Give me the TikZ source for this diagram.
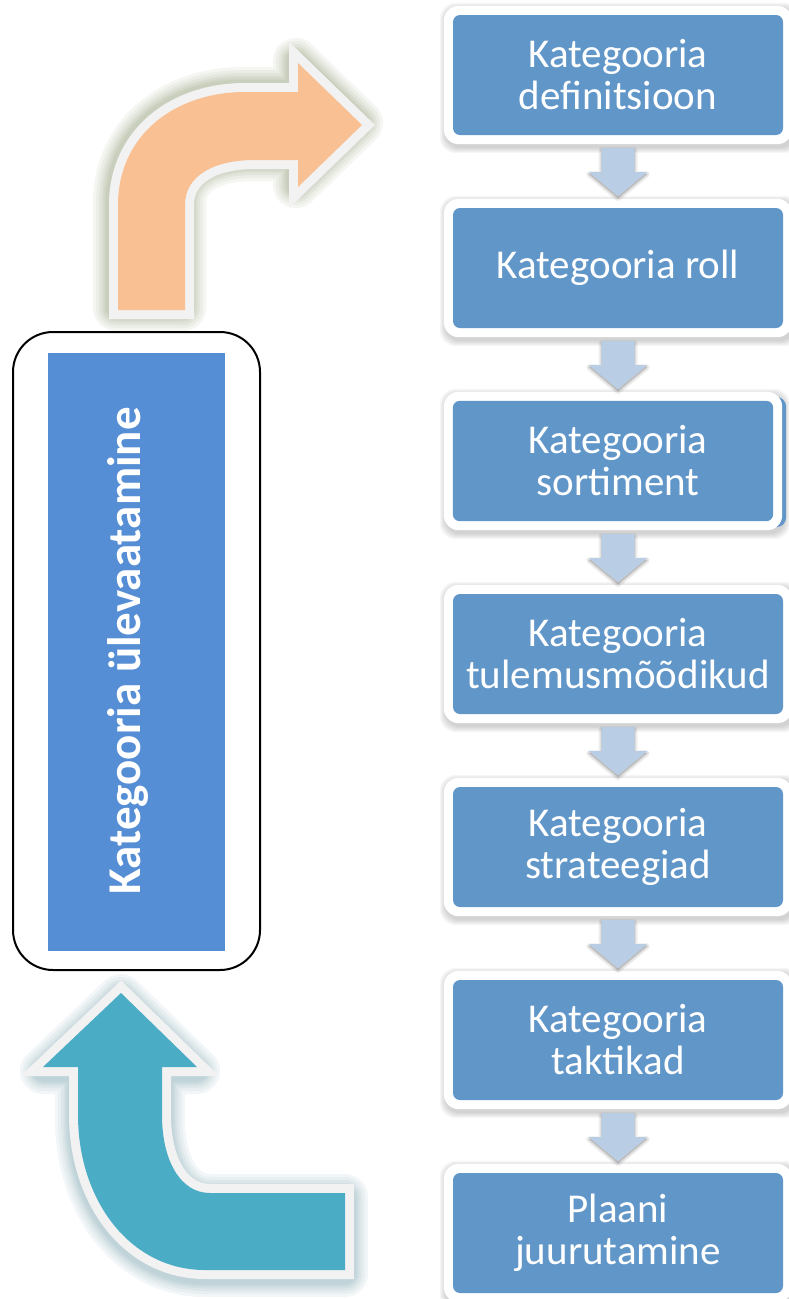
\documentclass[tikz,border=0pt]{standalone}
\usepackage{fontspec}
\setmainfont{Carlito}
\usetikzlibrary{calc,backgrounds}

\definecolor{boxblue}{HTML}{6196C9}
\definecolor{leftblue}{HTML}{558ED5}
\definecolor{arrowblue}{HTML}{B9CDE5}
\definecolor{orangefill}{HTML}{F9C193}
\definecolor{tealfill}{HTML}{4BACC6}
\definecolor{rimgray}{HTML}{F2F2F2}
\definecolor{oliveshade}{HTML}{4F6228}
\definecolor{tealshade}{HTML}{2F6E80}

% outlines of the two bent block arrows (x right, y down)
\def\orangepath{(118,310) -- (118,205) .. controls (118,135) and (175,92) .. (245,92)
  -- (298,92) -- (298,63) -- (362,125) -- (298,187) -- (298,160) -- (255,160)
  .. controls (215,160) and (185,175) .. (185,205) -- (185,310) -- cycle}
\def\tealpath{(121,993) -- (197,1067) -- (162,1067) -- (162,1115)
  .. controls (162,1160) and (180,1193) .. (210,1193) -- (345,1193) -- (345,1270)
  -- (205,1270) .. controls (130,1270) and (78,1200) .. (78,1115) -- (78,1067)
  -- (43,1067) -- cycle}

% short block arrow below a step box
\newcommand\flowarrow[1]{%
  \begin{scope}[shift={(#1.south)}]
    \foreach \k in {6,4,2}
      \draw[black, opacity=0.05, line width=\k pt, line join=round, fill]
        (-16.5,15) -- (16.5,15) -- (16.5,39) -- (29,39) -- (0,63) -- (-29,39) -- (-16.5,39) -- cycle;
    \fill[arrowblue] (-16.5,13) -- (16.5,13) -- (16.5,37) -- (29,37) -- (0,61)
      -- (-29,37) -- (-16.5,37) -- cycle;
  \end{scope}}

% soft shadow under a rectangle given by two corners
\newcommand\softshadow[2]{%
  \foreach \k in {1,...,6}
    \fill[black, opacity=0.03, rounded corners=16pt]
      ($#1+(-7-\k,-6-\k)$) rectangle ($#2+(11+\k,12+\k)$);}
% white rim around a rectangle given by two corners
\newcommand\whiterim[2]{%
  \fill[white, rounded corners=15pt] ($#1+(-9,-9)$) rectangle ($#2+(9,9)$);}

\begin{document}
\begin{tikzpicture}[x=1pt,y=-1pt,
  stepbox/.style={fill=boxblue, rounded corners=7pt, minimum width=330pt,
    minimum height=120pt, inner sep=0pt, text=white, align=center,
    font=\fontsize{41}{42}\selectfont},
  glowline/.style={line join=round, opacity=0.06}]
\useasboundingbox (0,0) rectangle (789,1299);

% bent arrow at the top (orange)
\begin{scope}[shift={(-2,-2)}]
  \foreach \w in {46,40,34,29,25,21}
    \draw[glowline, oliveshade, line width=\w pt] \orangepath;
\end{scope}
\draw[rimgray, fill=rimgray, line width=18pt, line join=miter] \orangepath;
\fill[orangefill] \orangepath;

% bent arrow at the bottom (teal)
\begin{scope}[shift={(0,4)}]
  \foreach \w in {46,40,34,29,25,21}
    \draw[glowline, tealshade, line width=\w pt] \tealpath;
\end{scope}
\draw[rimgray, fill=rimgray, line width=18pt, line join=miter] \tealpath;
\fill[tealfill] \tealpath;

% overview box on the left
\node[draw=black, line width=2pt, rounded corners=40pt, minimum width=247pt,
  minimum height=638pt] (frame) at (136.5,651) {};
\node[fill=leftblue, minimum width=177pt, minimum height=598pt, inner sep=0pt]
  (overview) at (136.5,652) {};
\node[rotate=90, anchor=base, text=white, inner sep=0pt,
  font=\bfseries\fontsize{47}{50}\selectfont] (label) at (140,651)
  {Kategooria ülevaatamine};

% process steps
\node[stepbox] (b1) at (618,75) {Kategooria\\definitsioon};
\node[stepbox] (b2) at (618,268) {Kategooria roll};
\node[stepbox, fill=none] (b3) at (618,461) {Kategooria\\sortiment};
\node[stepbox] (b4) at (618,654) {Kategooria\\tulemusmõõdikud};
\node[stepbox] (b5) at (618,847) {Kategooria\\strateegiad};
\node[stepbox] (b6) at (618,1040) {Kategooria\\taktikad};
\node[stepbox] (b7) at (618,1233) {Plaani\\juurutamine};

% white rims and soft shadows behind the steps
\begin{scope}[on background layer]
  \foreach \b in {b1,b2,b4,b5,b6,b7} {
    \softshadow{(\b.north west)}{(\b.south east)}
    \whiterim{(\b.north west)}{(\b.south east)}
  }
  % the third step sits slightly narrower, over a blue backing
  \softshadow{(b3.north west)}{($(b3.south east)+(-10,0)$)}
  \fill[boxblue, rounded corners=10pt] ($(b3.north west)+(2,-4)$)
    rectangle ($(b3.south east)+(3,6)$);
  \whiterim{(b3.north west)}{($(b3.south east)+(-10,0)$)}
  \fill[boxblue, rounded corners=7pt] (b3.north west)
    rectangle ($(b3.south east)+(-10,0)$);
\end{scope}

% connectors between the steps
\flowarrow{b1}
\flowarrow{b2}
\flowarrow{b3}
\flowarrow{b4}
\flowarrow{b5}
\flowarrow{b6}
\end{tikzpicture}
\end{document}
